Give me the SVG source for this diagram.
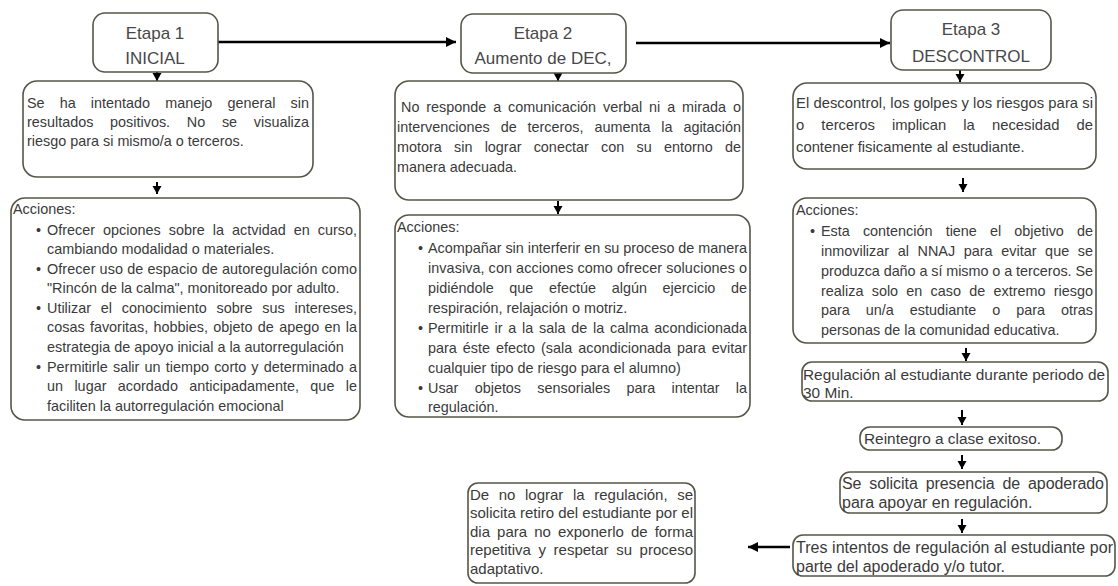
<svg xmlns="http://www.w3.org/2000/svg" width="1118" height="586" viewBox="0 0 1118 586">
<style>
.box{fill:#fff;stroke:#55554a;stroke-width:1.6}
.t{font-family:"Liberation Sans",Arial,sans-serif;font-size:14.4px;fill:#3a3a3a}
.d3{font-family:"Liberation Sans",Arial,sans-serif;font-size:14.8px;fill:#3a3a3a}
.r{font-family:"Liberation Sans",Arial,sans-serif;font-size:15px;fill:#3a3a3a}
.g{font-family:"Liberation Sans",Arial,sans-serif;font-size:15.4px;fill:#3a3a3a}
.f{font-family:"Liberation Sans",Arial,sans-serif;font-size:16px;fill:#3a3a3a}
.h{font-family:"Liberation Sans",Arial,sans-serif;font-size:17px;fill:#484848;text-anchor:middle}
.c{stroke:#000;fill:none}
.big{stroke-width:2.6}
.sm{stroke-width:2}
</style>
<defs>
<marker id="ah" markerUnits="userSpaceOnUse" markerWidth="12" markerHeight="12" refX="10" refY="6" orient="auto">
<path d="M0,1 L10,6 L0,11 Z" fill="#000"/>
</marker>
<marker id="as" markerUnits="userSpaceOnUse" markerWidth="10" markerHeight="10" refX="8" refY="5" orient="auto">
<path d="M0,0.5 L8,5 L0,9.5 Z" fill="#000"/>
</marker>
</defs>
<rect width="1118" height="586" fill="#fff"/>

<g id="connectors">
<line class="c big" x1="218" y1="42" x2="456" y2="42" marker-end="url(#ah)"/>
<line class="c big" x1="636" y1="43" x2="890" y2="43" marker-end="url(#ah)"/>
<line class="c sm" x1="157" y1="72" x2="157" y2="81" marker-end="url(#as)"/>
<line class="c sm" x1="157" y1="182" x2="157" y2="194" marker-end="url(#as)"/>
<line class="c sm" x1="558" y1="73" x2="558" y2="81" marker-end="url(#as)"/>
<line class="c sm" x1="558" y1="201" x2="558" y2="214" marker-end="url(#as)"/>
<line class="c sm" x1="960" y1="70" x2="960" y2="82" marker-end="url(#as)"/>
<line class="c sm" x1="963" y1="178" x2="963" y2="192" marker-end="url(#as)"/>
<line class="c sm" x1="966" y1="348" x2="966" y2="361" marker-end="url(#as)"/>
<line class="c sm" x1="962" y1="410" x2="962" y2="425" marker-end="url(#as)"/>
<line class="c sm" x1="962" y1="455" x2="962" y2="469" marker-end="url(#as)"/>
<line class="c sm" x1="962" y1="519" x2="962" y2="533" marker-end="url(#as)"/>
<line class="c big" x1="790" y1="547" x2="748" y2="547" marker-end="url(#ah)"/>
</g>

<g id="etapa1">
<rect class="box" x="93" y="13" width="125" height="59" rx="12"/>
<text class="h" x="155" y="39">Etapa 1</text>
<text class="h" x="155" y="64">INICIAL</text>
</g>
<g id="etapa2">
<rect class="box" x="461" y="14" width="165" height="59" rx="12"/>
<text class="h" x="543" y="39">Etapa 2</text>
<text class="h" x="543" y="64">Aumento de DEC,</text>
</g>
<g id="etapa3">
<rect class="box" x="891" y="10" width="160" height="60" rx="12"/>
<text class="h" x="971" y="35">Etapa 3</text>
<text class="h" x="971" y="62">DESCONTROL</text>
</g>

<g id="desc1">
<rect class="box" x="23" y="81" width="290" height="96" rx="14"/>
<text class="t" x="27" y="108" word-spacing="11.1" textLength="282" lengthAdjust="spacing">Se ha intentado manejo general sin</text>
<text class="t" x="27" y="127" word-spacing="12.7" textLength="282" lengthAdjust="spacing">resultados positivos. No se visualiza</text>
<text class="t" x="27" y="146">riesgo para si mismo/a o terceros.</text>
</g>

<g id="acciones1">
<rect class="box" x="11" y="198" width="349" height="222" rx="14"/>
<text class="t" x="13" y="214">Acciones:</text>
<text class="t" x="36" y="235">•</text>
<text class="t" x="47" y="235" word-spacing="4" textLength="310" lengthAdjust="spacing">Ofrecer opciones sobre la actvidad en curso,</text>
<text class="t" x="47" y="254">cambiando modalidad o materiales.</text>
<text class="t" x="36" y="274">•</text>
<text class="t" x="47" y="274" textLength="310" lengthAdjust="spacing">Ofrecer uso de espacio de autoregulación como</text>
<text class="t" x="47" y="293">"Rincón de la calma", monitoreado por adulto.</text>
<text class="t" x="36" y="313">•</text>
<text class="t" x="47" y="313" word-spacing="5.8" textLength="310" lengthAdjust="spacing">Utilizar el conocimiento sobre sus intereses,</text>
<text class="t" x="47" y="332" word-spacing="1.3" textLength="310" lengthAdjust="spacing">cosas favoritas, hobbies, objeto de apego en la</text>
<text class="t" x="47" y="352">estrategia de apoyo inicial a la autorregulación</text>
<text class="t" x="36" y="372">•</text>
<text class="t" x="47" y="372" word-spacing="1.2" textLength="310" lengthAdjust="spacing">Permitirle salir un tiempo corto y determinado a</text>
<text class="t" x="47" y="391" word-spacing="7.4" textLength="310" lengthAdjust="spacing">un lugar acordado anticipadamente, que le</text>
<text class="t" x="47" y="411">faciliten la autorregulación emocional</text>
</g>

<g id="desc2">
<rect class="box" x="395" y="81" width="348" height="119" rx="14"/>
<text class="t" x="401" y="112" word-spacing="2.9" textLength="340" lengthAdjust="spacing">No responde a comunicación verbal ni a mirada o</text>
<text class="t" x="397" y="132" word-spacing="6.9" textLength="344" lengthAdjust="spacing">intervenciones de terceros, aumenta la agitación</text>
<text class="t" x="397" y="152" word-spacing="8.2" textLength="344" lengthAdjust="spacing">motora sin lograr conectar con su entorno de</text>
<text class="t" x="397" y="172">manera adecuada.</text>
</g>

<g id="acciones2">
<rect class="box" x="395" y="215" width="355" height="202" rx="14"/>
<text class="t" x="397" y="232">Acciones:</text>
<text class="t" x="418" y="253">•</text>
<text class="t" x="428" y="253" textLength="319" lengthAdjust="spacing">Acompañar sin interferir en su proceso de manera</text>
<text class="t" x="428" y="273" textLength="319" lengthAdjust="spacing">invasiva, con acciones como ofrecer soluciones o</text>
<text class="t" x="428" y="293" word-spacing="11.6" textLength="319" lengthAdjust="spacing">pidiéndole que efectúe algún ejercicio de</text>
<text class="t" x="428" y="313">respiración, relajación o motriz.</text>
<text class="t" x="418" y="333">•</text>
<text class="t" x="428" y="333" word-spacing="1.8" textLength="319" lengthAdjust="spacing">Permitirle ir a la sala de la  calma acondicionada</text>
<text class="t" x="428" y="353" word-spacing="1.9" textLength="319" lengthAdjust="spacing">para éste efecto  (sala acondicionada para evitar</text>
<text class="t" x="428" y="373">cualquier tipo de riesgo para el alumno)</text>
<text class="t" x="418" y="393">•</text>
<text class="t" x="428" y="393" word-spacing="12.3" textLength="319" lengthAdjust="spacing">Usar objetos sensoriales para intentar la</text>
<text class="t" x="428" y="412">regulación.</text>
</g>

<g id="desc3">
<rect class="box" x="793" y="83" width="303" height="86" rx="14"/>
<text class="d3" x="796" y="108" textLength="297" lengthAdjust="spacing">El descontrol, los golpes y los riesgos para si</text>
<text class="d3" x="796" y="130" word-spacing="13" textLength="297" lengthAdjust="spacing">o terceros implican la necesidad de</text>
<text class="d3" x="796" y="152">contener fisicamente al estudiante.</text>
</g>

<g id="acciones3">
<rect class="box" x="793" y="198" width="303" height="145" rx="14"/>
<text class="t" x="796" y="215">Acciones:</text>
<text class="t" x="810" y="236">•</text>
<text class="t" x="821" y="236" word-spacing="9.1" textLength="272" lengthAdjust="spacing">Esta contención tiene el objetivo de</text>
<text class="t" x="821" y="256" word-spacing="4.6" textLength="272" lengthAdjust="spacing">inmovilizar al NNAJ para evitar que se</text>
<text class="t" x="821" y="276" textLength="272" lengthAdjust="spacing">produzca daño a sí mismo o a terceros. Se</text>
<text class="t" x="821" y="296" word-spacing="4.2" textLength="272" lengthAdjust="spacing">realiza solo en caso de extremo riesgo</text>
<text class="t" x="821" y="315" word-spacing="12" textLength="272" lengthAdjust="spacing">para un/a estudiante o para otras</text>
<text class="t" x="821" y="335">personas de la comunidad educativa.</text>
</g>

<g id="regulacion">
<rect class="box" x="802" y="362" width="306" height="39" rx="10"/>
<text class="g" x="803" y="380" textLength="302" lengthAdjust="spacing">Regulación al estudiante durante periodo de</text>
<text class="g" x="803" y="398">30 Min.</text>
</g>

<g id="reintegro">
<rect class="box" x="860" y="427" width="202" height="23" rx="10"/>
<text class="g" x="864" y="444">Reintegro a clase exitoso.</text>
</g>

<g id="apoderado">
<rect class="box" x="840" y="472" width="267" height="41" rx="10"/>
<text class="f" x="842" y="489" word-spacing="3.5" textLength="262" lengthAdjust="spacing">Se solicita presencia de apoderado</text>
<text class="f" x="842" y="508">para apoyar en regulación.</text>
</g>

<g id="intentos">
<rect class="box" x="793" y="535" width="322" height="41" rx="10"/>
<text class="f" x="796" y="553" textLength="317" lengthAdjust="spacing">Tres intentos de regulación al estudiante por</text>
<text class="f" x="796" y="572">parte del apoderado y/o tutor.</text>
</g>

<g id="retiro">
<rect class="box" x="468" y="483" width="227" height="100" rx="10"/>
<text class="r" x="470" y="500" word-spacing="5.4" textLength="223" lengthAdjust="spacing">De no lograr la regulación, se</text>
<text class="r" x="470" y="518" textLength="223" lengthAdjust="spacing">solicita retiro del estudiante por el</text>
<text class="r" x="470" y="537" word-spacing="2.9" textLength="223" lengthAdjust="spacing">dia para no exponerlo de forma</text>
<text class="r" x="470" y="555" word-spacing="3.4" textLength="223" lengthAdjust="spacing">repetitiva y respetar su proceso</text>
<text class="r" x="470" y="574">adaptativo.</text>
</g>
</svg>
